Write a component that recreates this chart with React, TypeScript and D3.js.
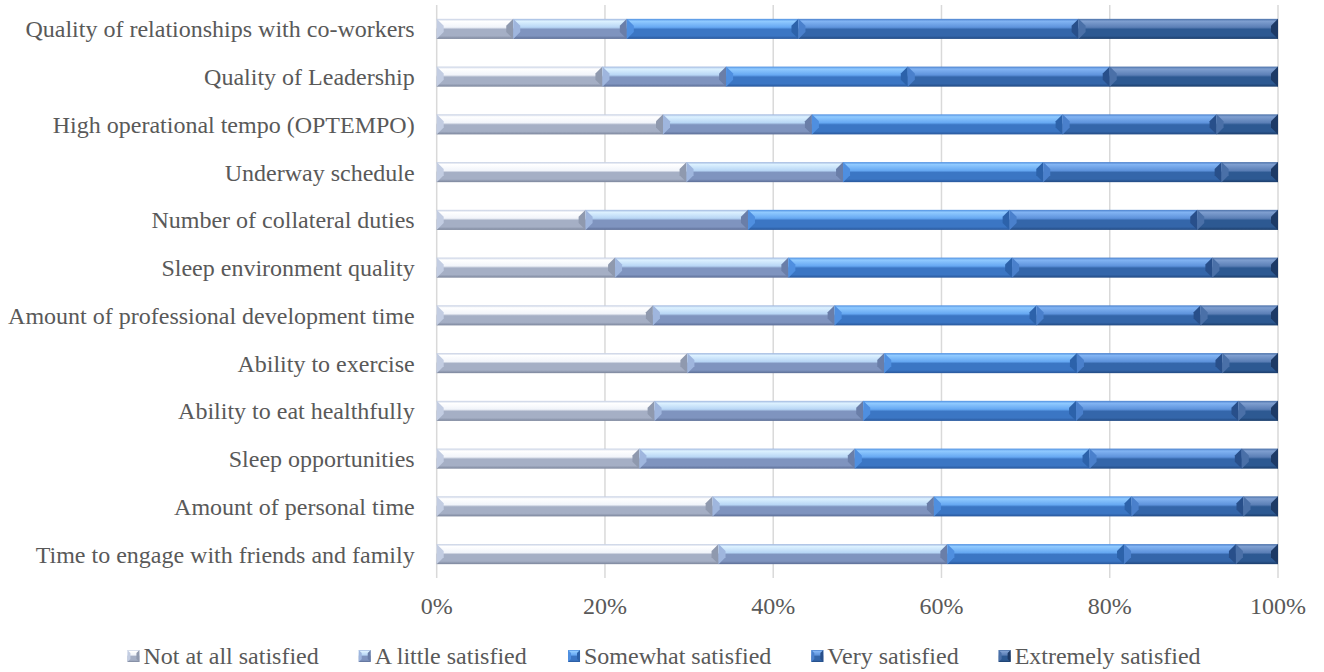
import React from 'react';
import * as d3 from 'd3';

// categories, top to bottom as drawn
const categories = [
  'Quality of relationships with co-workers',
  'Quality of Leadership',
  'High operational tempo (OPTEMPO)',
  'Underway schedule',
  'Number of collateral duties',
  'Sleep environment quality',
  'Amount of professional development time',
  'Ability to exercise',
  'Ability to eat healthfully',
  'Sleep opportunities',
  'Amount of personal time',
  'Time to engage with friends and family',
];

const seriesNames = [
  'Not at all satisfied',
  'A little satisfied',
  'Somewhat satisfied',
  'Very satisfied',
  'Extremely satisfied',
];

// percent of respondents, one array per series (same order as categories)
const notAtAll = [9.1, 19.7, 26.9, 29.7, 17.7, 21.2, 25.7, 29.8, 25.9, 24.1, 32.8, 33.5];
const aLittle = [13.5, 14.7, 17.7, 18.6, 19.3, 20.6, 21.6, 23.4, 24.8, 25.6, 26.3, 27.2];
const somewhat = [20.4, 21.6, 29.8, 23.8, 31.1, 26.6, 24.0, 22.9, 25.3, 27.9, 23.5, 21.0];
const very = [33.3, 24.0, 18.3, 21.2, 22.3, 23.8, 19.5, 17.3, 19.3, 18.1, 13.3, 13.3];
const extremely = [23.7, 20.0, 7.3, 6.7, 9.6, 7.8, 9.2, 6.6, 4.7, 4.3, 4.1, 5.0];

const xTicks = [0, 0.2, 0.4, 0.6, 0.8, 1];

// bevel look: light top, mid, dark bottom, edge, left wedge, right wedge
const palettes = [
  { light: '#ffffff', mid: '#f1f4fa', dark: '#a5afc5', edge: '#7c869c', wl: '#c3cde2', wr: '#8f99ae' },
  { light: '#dcf1ff', mid: '#b8d6f5', dark: '#7f94bf', edge: '#5c6e96', wl: '#9fb6de', wr: '#6a7ea8' },
  { light: '#90caff', mid: '#66a8f2', dark: '#3b76c4', edge: '#28579b', wl: '#4f8fe0', wr: '#2c62aa' },
  { light: '#82b4f3', mid: '#5e93dc', dark: '#3466aa', edge: '#224a83', wl: '#4a80cc', wr: '#284f8a' },
  { light: '#7f9fd0', mid: '#5b7fb6', dark: '#2d5992', edge: '#1b3d6b', wl: '#4a70a8', wr: '#1d3a66' },
];

const W = 1324;
const H = 672;
const FONT = "'Liberation Serif', 'Times New Roman', serif";
const FS = 24;
const TEXT = '#595959';

type Row = { cat: string; [k: string]: number | string };

const measure = (() => {
  let ctx: CanvasRenderingContext2D | null = null;
  return (s: string) => {
    if (!ctx) ctx = document.createElement('canvas').getContext('2d');
    if (!ctx) return s.length * 10;
    ctx.font = `${FS}px ${FONT}`;
    return ctx.measureText(s).width;
  };
})();

const App: React.FC = () => {
  const margin = { top: 5, right: 46, bottom: 94, left: 436.7 };
  const innerW = W - margin.left - margin.right;
  const innerH = H - margin.top - margin.bottom;

  const series = [notAtAll, aLittle, somewhat, very, extremely];
  const rows: Row[] = categories.map((c, i) => {
    const r: Row = { cat: c };
    seriesNames.forEach((n, j) => (r[n] = series[j][i]));
    return r;
  });

  const stacked = d3
    .stack<Row>()
    .keys(seriesNames)
    .value((d, k) => d[k] as number)
    .offset(d3.stackOffsetExpand)(rows);

  const x = d3.scaleLinear().domain([0, 1]).range([0, innerW]);
  const y = d3.scaleBand<string>().domain(categories).range([0, innerH]).paddingInner(0.58).paddingOuter(0.29);
  const bh = y.bandwidth();
  const bev = Math.min(7, bh / 2 - 1);

  // legend layout, centred
  const marker = 12;
  const mGap = 4;
  const itemGap = 40;
  const widths = seriesNames.map((n) => marker + mGap + measure(n));
  const total = d3.sum(widths) + itemGap * (widths.length - 1);
  let lx = 664 - total / 2;
  const legendX = widths.map((w) => {
    const p = lx;
    lx += w + itemGap;
    return p;
  });

  return (
    <svg width={W} height={H} style={{ position: 'absolute', left: 0, top: 0, background: '#fff' }}>
      <defs>
        {palettes.map((p, i) => (
          <linearGradient key={i} id={`g${i}`} x1="0" y1="0" x2="0" y2="1">
            <stop offset="0" stopColor={p.wl} />
            <stop offset="0.12" stopColor={p.light} />
            <stop offset="0.42" stopColor={p.mid} />
            <stop offset="0.52" stopColor={p.dark} />
            <stop offset="0.85" stopColor={p.dark} />
            <stop offset="1" stopColor={p.edge} />
          </linearGradient>
        ))}
      </defs>
      <g transform={`translate(${margin.left},${margin.top})`}>
        {xTicks.map((t) => (
          <line key={t} x1={x(t)} x2={x(t)} y1={0} y2={innerH} stroke="#d9d9d9" strokeWidth={1.5} />
        ))}
        {stacked.map((s, si) => {
          const p = palettes[si];
          return (
            <g key={s.key}>
              {s.map((d, i) => {
                const x0 = x(d[0]);
                const x1 = x(d[1]);
                const y0 = y(categories[i]) as number;
                const y1 = y0 + bh;
                const b = Math.min(bev, (x1 - x0) / 2);
                return (
                  <g key={i}>
                    <rect x={x0} y={y0} width={x1 - x0} height={bh} fill={`url(#g${si})`} />
                    <polygon
                      points={`${x0},${y0} ${x0 + b},${y0 + b} ${x0 + b},${y1 - b} ${x0},${y1}`}
                      fill={p.wl}
                    />
                    <polygon
                      points={`${x1},${y0} ${x1 - b},${y0 + b} ${x1 - b},${y1 - b} ${x1},${y1}`}
                      fill={p.wr}
                    />
                  </g>
                );
              })}
            </g>
          );
        })}
        {categories.map((c) => (
          <text
            key={c}
            x={-22}
            y={(y(c) as number) + bh / 2}
            dy="0.35em"
            textAnchor="end"
            fontFamily={FONT}
            fontSize={FS}
            fill={TEXT}
          >
            {c}
          </text>
        ))}
        {xTicks.map((t) => (
          <text
            key={t}
            x={x(t)}
            y={innerH + 36}
            textAnchor="middle"
            fontFamily={FONT}
            fontSize={FS}
            fill={TEXT}
          >
            {d3.format('.0%')(t)}
          </text>
        ))}
      </g>
      <g>
        {seriesNames.map((n, i) => {
          const p = palettes[i];
          const mx = legendX[i];
          const my = 650;
          const b = 3;
          return (
            <g key={n}>
              <rect x={mx} y={my} width={marker} height={marker} fill={`url(#g${i})`} />
              <polygon
                points={`${mx},${my} ${mx + b},${my + b} ${mx + b},${my + marker - b} ${mx},${my + marker}`}
                fill={p.wl}
              />
              <polygon
                points={`${mx + marker},${my} ${mx + marker - b},${my + b} ${mx + marker - b},${my + marker - b} ${mx + marker},${my + marker}`}
                fill={p.wr}
              />
              <text x={mx + marker + mGap} y={664} fontFamily={FONT} fontSize={FS} fill={TEXT}>
                {n}
              </text>
            </g>
          );
        })}
      </g>
    </svg>
  );
};

export default App;
